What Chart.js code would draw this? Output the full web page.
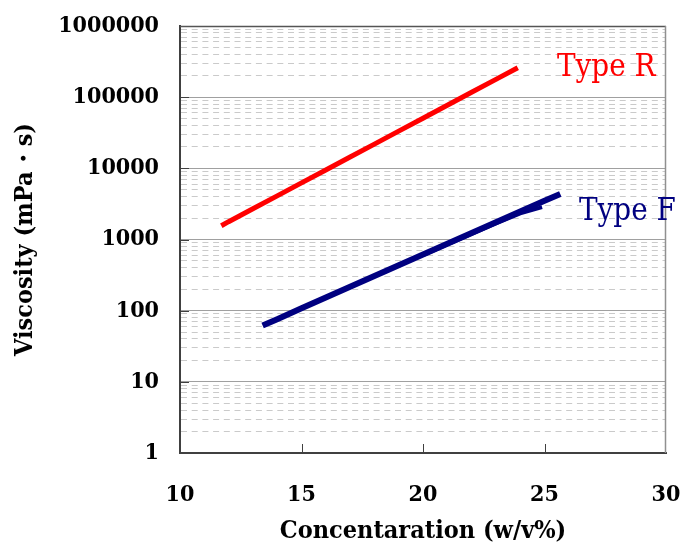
<!DOCTYPE html>
<html>
<head>
<meta charset="utf-8">
<script src="https://cdn.jsdelivr.net/npm/chart.js@4.4.1/dist/chart.umd.min.js"></script>
<style>
html,body{margin:0;padding:0;background:#fff;}
canvas{display:block;}
</style>
</head>
<body>
<canvas id="c" width="683" height="545"></canvas>
<script>
// ---- data ----
const typeRConc = [11.7, 12, 13, 14, 15, 16, 17, 18, 19, 20, 21, 22, 23, 23.9];
const typeRVisc = [1560, 1780, 2700, 4100, 6240, 9480, 14400, 21900, 33300, 50600, 76900, 117000, 178000, 259000];

const typeFConc = [13.4, 14, 15, 16, 17, 18, 19, 20, 21, 22, 23, 24, 25, 25.65];
const typeFVisc = [62, 76, 108, 153, 217, 307, 434, 614, 869, 1230, 1742, 2466, 3490, 4375];

const typeF2Conc = [20, 21, 22, 23, 24, 24.9];
const typeF2Visc = [600, 850, 1200, 1680, 2330, 2850];

const xTicks = [10, 15, 20, 25, 30];
const yMajorTicks = [1, 10, 100, 1000, 10000, 100000, 1000000];
const yMinorMultipliers = [2, 3, 4, 5, 6, 7, 8, 9];

const seriesLabels = ['Type R', 'Type F'];
const xTitle = 'Concentaration (w/v%)';
const yTitle = 'Viscosity (mPa・s)';

// ---- build tick list ----
const yAllTicks = [];
yMajorTicks.forEach((v, i) => {
  yAllTicks.push(v);
  if (i < yMajorTicks.length - 1) yMinorMultipliers.forEach(m => yAllTicks.push(v * m));
});
const isMajor = v => yMajorTicks.includes(v);

const pts = (xs, ys) => xs.map((x, i) => ({x, y: ys[i]}));

const FAM = "'DejaVu Serif Condensed', 'DejaVu Serif', serif";

const decor = {
  id: 'decor',
  afterDraw(chart) {
    const {ctx, chartArea: a, scales: {x, y}} = chart;
    ctx.save();
    // inward tick marks
    ctx.strokeStyle = '#404040';
    ctx.lineWidth = 1;
    ctx.beginPath();
    xTicks.slice(1, -1).forEach(v => {
      const px = Math.round(x.getPixelForValue(v)) + 0.5;
      ctx.moveTo(px, a.bottom);
      ctx.lineTo(px, a.bottom - 9);
    });
    yMajorTicks.slice(1, -1).forEach(v => {
      const py = Math.round(y.getPixelForValue(v)) + 0.5;
      ctx.moveTo(a.left, py);
      ctx.lineTo(a.left + 9, py);
    });
    ctx.stroke();
    // frame top / right
    ctx.strokeStyle = '#555555';
    ctx.lineWidth = 1.5;
    ctx.beginPath();
    ctx.moveTo(a.left, a.top + 0.5);
    ctx.lineTo(a.right, a.top + 0.5);
    ctx.stroke();
    ctx.strokeStyle = '#909090';
    ctx.beginPath();
    ctx.moveTo(a.right - 0.5, a.top);
    ctx.lineTo(a.right - 0.5, a.bottom);
    ctx.stroke();
    // series labels
    ctx.font = "31px " + FAM;
    ctx.textBaseline = 'alphabetic';
    ctx.textAlign = 'left';
    ctx.fillStyle = '#ff0000';
    ctx.fillText(seriesLabels[0], 557, 76);
    ctx.fillStyle = '#000080';
    ctx.fillText(seriesLabels[1], 579, 220);
    ctx.restore();
  }
};

new Chart(document.getElementById('c'), {
  type: 'line',
  data: {
    datasets: [
      {data: pts(typeRConc, typeRVisc), borderColor: '#ff0000', borderWidth: 5, pointRadius: 0, tension: 0, borderCapStyle: 'butt'},
      {data: pts(typeF2Conc, typeF2Visc), borderColor: '#000080', borderWidth: 4, pointRadius: 0, tension: 0, borderCapStyle: 'butt'},
      {data: pts(typeFConc, typeFVisc), borderColor: '#000080', borderWidth: 6, pointRadius: 0, tension: 0, borderCapStyle: 'butt'}
    ]
  },
  options: {
    responsive: false,
    animation: false,
    devicePixelRatio: 1,
    layout: {padding: {top: 26, right: 17, left: 0, bottom: 0}},
    plugins: {legend: {display: false}, tooltip: {enabled: false}},
    scales: {
      x: {
        type: 'linear', min: 10, max: 30,
        afterBuildTicks: s => { s.ticks = xTicks.map(v => ({value: v})); },
        afterFit: s => { s.height = 92; s.paddingLeft = 0; s.paddingRight = 0; },
        ticks: {color: '#000', font: {family: FAM, size: 23, weight: 'bold'}, padding: 28, autoSkip: false, maxRotation: 0},
        grid: {drawOnChartArea: false, drawTicks: false},
        border: {color: '#404040', width: 2},
        title: {display: true, text: xTitle, color: '#000', font: {family: FAM, size: 25, weight: 'bold', lineHeight: 1.1}, padding: {top: 0, bottom: 0}}
      },
      y: {
        type: 'logarithmic', min: 1, max: 1000000,
        afterBuildTicks: s => { s.ticks = yAllTicks.map(v => ({value: v, major: isMajor(v)})); },
        afterFit: s => { s.width = 180; s.paddingTop = 0; s.paddingBottom = 0; },
        ticks: {
          color: '#000', font: {family: FAM, size: 23, weight: 'bold'}, padding: 21, autoSkip: false,
          callback: v => isMajor(v) ? String(v) : ''
        },
        grid: {
          drawTicks: false, lineWidth: 1,
          color: c => (c.tick && !isMajor(c.tick.value)) ? '#cacaca' : '#a0a0a0'
        },
        border: {
          color: '#404040', width: 2,
          dash: c => (c.tick && !isMajor(c.tick.value)) ? [6, 4.7] : []
        },
        title: {display: true, text: yTitle, color: '#000', font: {family: FAM, size: 25, weight: 'bold'}, padding: {top: 10, bottom: 0}}
      }
    }
  },
  plugins: [decor]
});
</script>
</body>
</html>
